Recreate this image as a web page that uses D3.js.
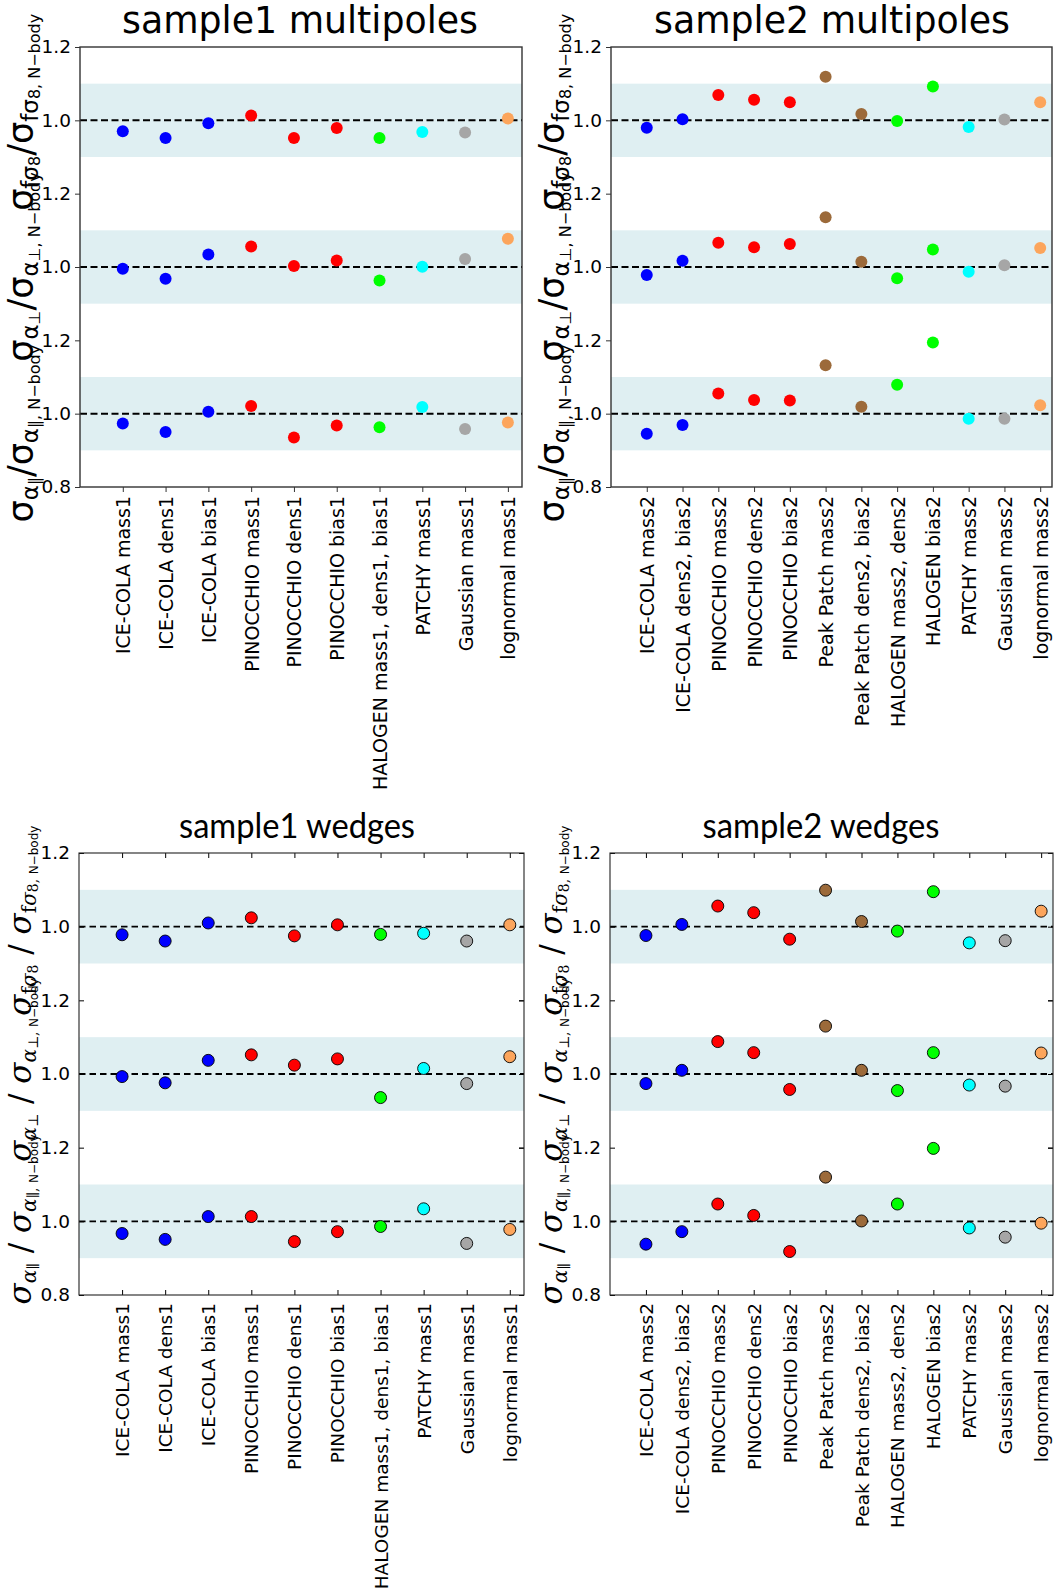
<!DOCTYPE html>
<html>
<head>
<meta charset="utf-8">
<script src="https://cdn.jsdelivr.net/npm/d3@7"></script>
<style>
  body { margin: 0; background: #fff; }
  svg { display: block; }
</style>
</head>
<body>
<svg id="fig" width="1054" height="1589"></svg>
<script>
// categories
const cats1 = ["ICE-COLA mass1", "ICE-COLA dens1", "ICE-COLA bias1", "PINOCCHIO mass1", "PINOCCHIO dens1",
  "PINOCCHIO bias1", "HALOGEN mass1, dens1, bias1", "PATCHY mass1", "Gaussian mass1", "lognormal mass1"];
const cats2 = ["ICE-COLA mass2", "ICE-COLA dens2, bias2", "PINOCCHIO mass2", "PINOCCHIO dens2", "PINOCCHIO bias2",
  "Peak Patch mass2", "Peak Patch dens2, bias2", "HALOGEN mass2, dens2", "HALOGEN bias2", "PATCHY mass2",
  "Gaussian mass2", "lognormal mass2"];

const colors1 = ["#0000ff", "#0000ff", "#0000ff", "#ff0000", "#ff0000", "#ff0000", "#00ff00", "#00ffff", "#a6a6a6", "#fca55c"];
const colors2 = ["#0000ff", "#0000ff", "#ff0000", "#ff0000", "#ff0000", "#9c6a3a", "#9c6a3a", "#00ff00", "#00ff00",
  "#00ffff", "#a6a6a6", "#fca55c"];

// sample1 multipoles
const mp1_fs8 = [0.970, 0.952, 0.992, 1.013, 0.952, 0.979, 0.952, 0.968, 0.967, 1.005];
const mp1_aperp = [0.995, 0.968, 1.034, 1.056, 1.003, 1.018, 0.963, 1.001, 1.022, 1.077];
const mp1_apar = [0.973, 0.950, 1.005, 1.021, 0.935, 0.968, 0.963, 1.018, 0.958, 0.976];
// sample2 multipoles
const mp2_fs8 = [0.980, 1.003, 1.069, 1.056, 1.049, 1.119, 1.017, 0.998, 1.092, 0.982, 1.002, 1.049];
const mp2_aperp = [0.978, 1.017, 1.066, 1.054, 1.063, 1.136, 1.014, 0.969, 1.048, 0.987, 1.005, 1.052];
const mp2_apar = [0.945, 0.969, 1.055, 1.037, 1.036, 1.132, 1.019, 1.079, 1.194, 0.986, 0.986, 1.023];
// sample1 wedges
const wd1_fs8 = [0.978, 0.961, 1.010, 1.024, 0.975, 1.005, 0.979, 0.982, 0.961, 1.005];
const wd1_aperp = [0.993, 0.976, 1.037, 1.052, 1.024, 1.041, 0.936, 1.015, 0.974, 1.047];
const wd1_apar = [0.967, 0.951, 1.013, 1.013, 0.945, 0.972, 0.986, 1.034, 0.940, 0.978];
// sample2 wedges
const wd2_fs8 = [0.976, 1.006, 1.056, 1.038, 0.966, 1.099, 1.014, 0.988, 1.095, 0.956, 0.962, 1.042];
const wd2_aperp = [0.974, 1.010, 1.088, 1.058, 0.958, 1.130, 1.010, 0.955, 1.058, 0.970, 0.967, 1.057];
const wd2_apar = [0.938, 0.972, 1.047, 1.016, 0.918, 1.120, 1.001, 1.047, 1.198, 0.982, 0.957, 0.995];

const yDomain = [0.8, 1.2];
const band = [0.9, 1.1];
const refLine = 1.0;
const yTicksUpper = [1.0, 1.2];
const yTicksBottom = [0.8, 1.0, 1.2];

const titles = ["sample1 multipoles", "sample2 multipoles", "sample1 wedges", "sample2 wedges"];

const svg = d3.select("#fig");
const fmt = d3.format(".1f");

// label pieces for the three stacked rows (top to bottom): [text, level]
const mpLabels = [
  [["σ", 0], ["fσ", 1], ["8", 2], ["/", 0], ["σ", 0], ["fσ", 1], ["8, N−body", 2]],
  [["σ", 0], ["α", 1], ["⊥", 2], ["/", 0], ["σ", 0], ["α", 1], ["⊥, N−body", 2]],
  [["σ", 0], ["α", 1], ["∥", 2], ["/", 0], ["σ", 0], ["α", 1], ["∥, N−body", 2]]
];
// [text, level, italic]
const wdLabels = [
  [["σ", 0, 1], ["f", 1, 0], ["σ", 1, 1], ["8", 2, 0], [" / ", 0, 0], ["σ", 0, 1], ["f", 1, 0], ["σ", 1, 1], ["8, ", 2, 0], ["N−body", 3, 0]],
  [["σ", 0, 1], ["α", 1, 1], ["⊥", 2, 0], [" / ", 0, 0], ["σ", 0, 1], ["α", 1, 1], ["⊥, ", 2, 0], ["N−body", 3, 0]],
  [["σ", 0, 1], ["α", 1, 1], ["∥", 2, 0], [" / ", 0, 0], ["σ", 0, 1], ["α", 1, 1], ["∥, ", 2, 0], ["N−body", 3, 0]]
];
// small offsets of each row label from its row centre
const mpLabelShift = [-8, 0, 20];
const wdLabelShift = [-6, -4, -2];

const panels = [
  {cats: cats1, colors: colors1, rows: [mp1_fs8, mp1_aperp, mp1_apar], x0: 80, x1: 522, y0: 47, y1: 487, kind: "mp",
    title: titles[0], tx: 300, ty: 33, tlen: 356},
  {cats: cats2, colors: colors2, rows: [mp2_fs8, mp2_aperp, mp2_apar], x0: 611, x1: 1052, y0: 47, y1: 487, kind: "mp",
    title: titles[1], tx: 832, ty: 33, tlen: 356},
  {cats: cats1, colors: colors1, rows: [wd1_fs8, wd1_aperp, wd1_apar], x0: 79, x1: 524, y0: 853, y1: 1295, kind: "wd",
    title: titles[2], tx: 297, ty: 838, tlen: 236},
  {cats: cats2, colors: colors2, rows: [wd2_fs8, wd2_aperp, wd2_apar], x0: 610, x1: 1053, y0: 853, y1: 1295, kind: "wd",
    title: titles[3], tx: 821, ty: 838, tlen: 237}
];

panels.forEach(p => drawPanel(p));

function drawPanel(p) {
  const mp = p.kind === "mp";
  const n = p.cats.length;
  const g = svg.append("g");
  const x = d3.scaleLinear().domain([-1, n - 1 + 0.33]).range([p.x0, p.x1]);
  const h = (p.y1 - p.y0) / 3;

  p.rows.forEach((vals, i) => {
    const y = d3.scaleLinear().domain(yDomain).range([p.y0 + (i + 1) * h, p.y0 + i * h]);
    const sub = g.append("g");

    sub.append("rect")
      .attr("x", p.x0).attr("width", p.x1 - p.x0)
      .attr("y", y(band[1])).attr("height", y(band[0]) - y(band[1]))
      .attr("fill", "#dfeff2");

    sub.append("line")
      .attr("x1", p.x0).attr("x2", p.x1)
      .attr("y1", y(refLine)).attr("y2", y(refLine))
      .attr("stroke", "#000").attr("stroke-width", mp ? 2 : 1.8)
      .attr("stroke-dasharray", mp ? "7,3.5" : "6.5,4");

    sub.selectAll("circle").data(vals).enter().append("circle")
      .attr("cx", (d, j) => x(j))
      .attr("cy", d => y(d))
      .attr("r", 6)
      .attr("fill", (d, j) => p.colors[j])
      .attr("stroke", mp ? "none" : "#000")
      .attr("stroke-width", 0.9);

    // y axis
    const ax = d3.axisLeft(y)
      .tickValues(i === 2 ? yTicksBottom : yTicksUpper)
      .tickFormat(fmt)
      .tickSizeOuter(0)
      .tickSizeInner(mp ? 5 : -5)
      .tickPadding(mp ? 4 : 9);
    const ya = sub.append("g").attr("transform", `translate(${p.x0},0)`).call(ax);
    ya.select(".domain").remove();
    ya.selectAll("line").attr("stroke", mp ? "#333" : "#000");
    ya.selectAll("text")
      .attr("font-family", "DejaVu Sans")
      .attr("font-size", 18.5)
      .attr("fill", "#000");

    if (!mp) {
      const ar = d3.axisRight(y)
        .tickValues(yTicksBottom).tickFormat("").tickSizeOuter(0).tickSizeInner(-5);
      const ra = sub.append("g").attr("transform", `translate(${p.x1},0)`).call(ar);
      ra.select(".domain").remove();
      ra.selectAll("line").attr("stroke", "#000");
    }

    // y label
    const cy = p.y0 + (i + 0.5) * h + (mp ? mpLabelShift[i] : wdLabelShift[i]);
    drawLabel(g, mp ? mpLabels[i] : wdLabels[i], mp, mp ? p.x0 - 47 : p.x0 - 48, cy);
  });

  // x axis
  const xa = d3.axisBottom(x)
    .tickValues(d3.range(n))
    .tickFormat(j => p.cats[j])
    .tickSizeOuter(0)
    .tickSizeInner(mp ? 5 : -5);
  const xg = g.append("g").attr("transform", `translate(0,${p.y1})`).call(xa);
  xg.select(".domain").remove();
  xg.selectAll("line").attr("stroke", mp ? "#333" : "#000");
  xg.selectAll("text")
    .attr("y", 0).attr("dy", null)
    .attr("x", mp ? -9 : -8)
    .attr("transform", "rotate(-90)")
    .attr("text-anchor", "end")
    .attr("dominant-baseline", "central")
    .attr("font-family", "DejaVu Sans")
    .attr("font-size", mp ? 19 : 18.5)
    .attr("fill", "#000");

  if (!mp) {
    const xt = d3.axisTop(x).tickValues(d3.range(n)).tickFormat("").tickSizeOuter(0).tickSizeInner(-5);
    const tg = g.append("g").attr("transform", `translate(0,${p.y0})`).call(xt);
    tg.select(".domain").remove();
    tg.selectAll("line").attr("stroke", "#000");
  }

  // frame
  g.append("rect")
    .attr("x", p.x0).attr("y", p.y0)
    .attr("width", p.x1 - p.x0).attr("height", p.y1 - p.y0)
    .attr("fill", "none")
    .attr("stroke", mp ? "#333" : "#222")
    .attr("stroke-width", mp ? 1.4 : 1.1);

  // title
  g.append("text")
    .attr("x", p.tx).attr("y", p.ty)
    .attr("text-anchor", "middle")
    .attr("font-family", mp ? "DejaVu Sans" : "Lato")
    .attr("font-size", mp ? 37 : 34)
    .attr("textLength", p.tlen)
    .attr("lengthAdjust", "spacingAndGlyphs")
    .text(p.title);
}

function drawLabel(g, parts, mp, bx, cy) {
  const sizes = mp ? [35, 23, 16, 16] : [31, 20, 14, 12];
  const shifts = mp ? [0, 5, 7, 7] : [0, 5, 7, 7];
  const t = g.append("text")
    .attr("transform", `translate(${bx},${cy}) rotate(-90)`)
    .attr("text-anchor", "middle")
    .attr("fill", "#000");
  let cur = 0;
  parts.forEach(([txt, lvl, it]) => {
    const s = t.append("tspan")
      .attr("font-size", sizes[lvl])
      .attr("dy", shifts[lvl] - cur)
      .text(txt);
    cur = shifts[lvl];
    if (mp) {
      s.attr("font-family", "DejaVu Sans");
    } else {
      s.attr("font-family", lvl === 3 ? "DejaVu Sans" : "DejaVu Serif")
        .attr("font-style", it ? "italic" : "normal");
    }
  });
}
</script>
</body>
</html>
